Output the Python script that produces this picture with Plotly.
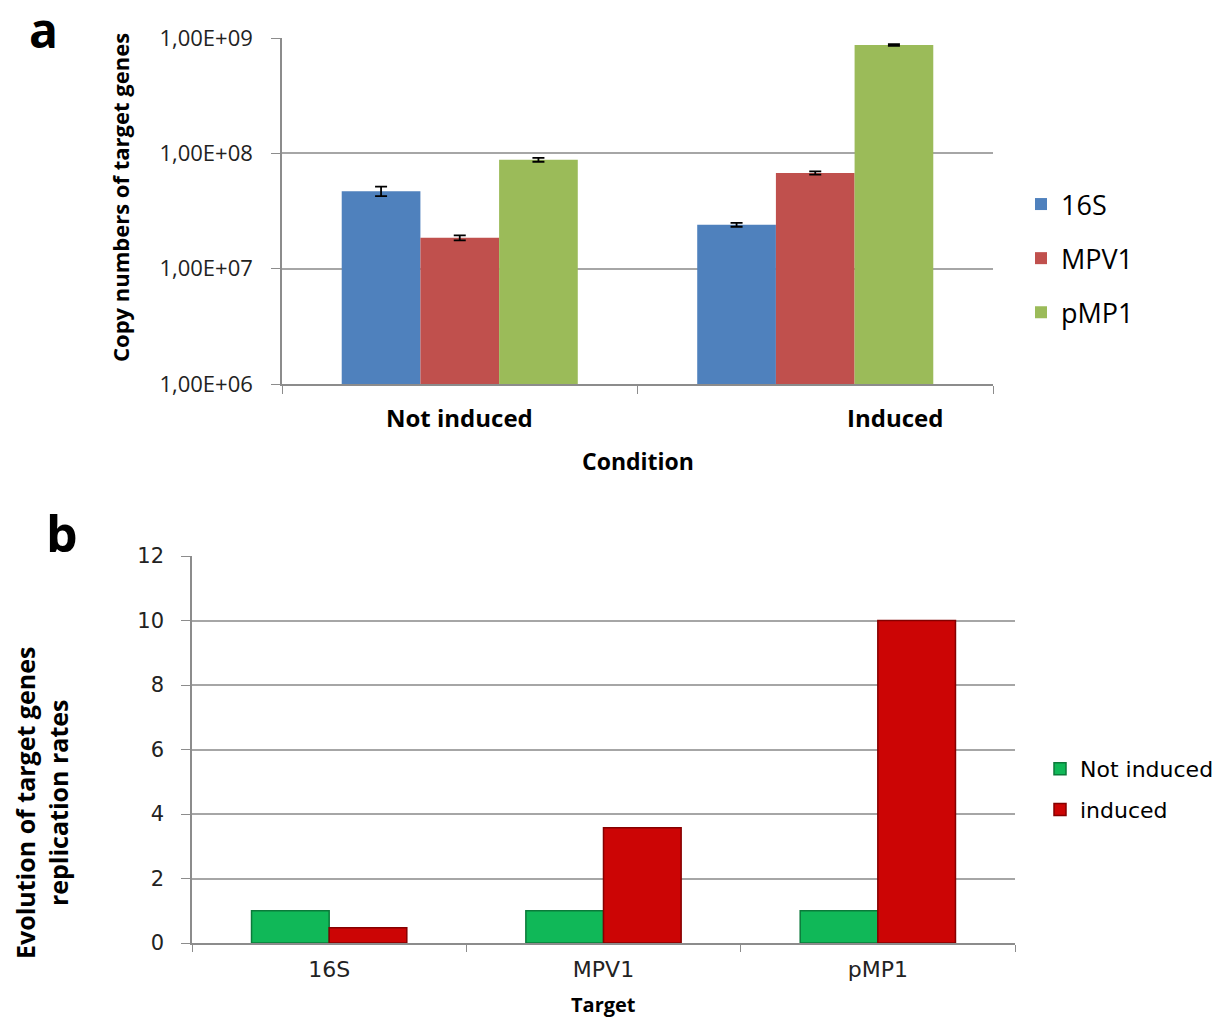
import plotly.graph_objects as go

# ---- Data: panel a ----
conditions = ["Not induced", "Induced"]
genes = ["16S", "MPV1", "pMP1"]
copies_16S = [4.7e7, 2.4e7]
copies_MPV1 = [1.85e7, 6.75e7]
copies_pMP1 = [8.8e7, 8.7e8]
err_16S = [4.5e6, 0.9e6]
err_MPV1 = [0.9e6, 2.2e6]
err_pMP1 = [3.5e6, 1.5e7]
log_ticks = [1e6, 1e7, 1e8, 1e9]

# ---- Data: panel b ----
targets = ["16S", "MPV1", "pMP1"]
rate_not_induced = [1.0, 1.0, 1.0]
rate_induced = [0.47, 3.57, 10.0]
lin_ticks = [0, 2, 4, 6, 8, 10, 12]

FONT = "Open Sans"
FONT_B = "DejaVu Sans"
W, H = 1231, 1018
OFF = 8  # page body margin

def px_x(p):
    return (p - OFF) / W

def px_y(p):
    return 1 - (p - OFF) / H

fig = go.Figure()

colors_a = ["#4f81bd", "#c0504d", "#9bbb59"]
for name, vals, errs, col in zip(genes, [copies_16S, copies_MPV1, copies_pMP1],
                                 [err_16S, err_MPV1, err_pMP1], colors_a):
    fig.add_trace(go.Bar(
        x=conditions, y=vals, name=name, marker=dict(color=col, line=dict(width=0)),
        error_y=dict(type="data", array=errs, color="black", thickness=1.8, width=6),
        xaxis="x", yaxis="y", legend="legend", legendgroup=name,
    ))

BW = 0.283
fig.add_trace(go.Bar(
    x=targets, y=rate_not_induced, name="Not induced",
    width=BW, offset=-BW,
    marker=dict(color="#10b858", line=dict(color="#0b7a3a", width=1.5)),
    xaxis="x2", yaxis="y2", legend="legend2", legendgroup="ni",
))
fig.add_trace(go.Bar(
    x=targets, y=rate_induced, name="induced",
    width=BW, offset=0,
    marker=dict(color="#cc0505", line=dict(color="#850000", width=1.5)),
    xaxis="x2", yaxis="y2", legend="legend2", legendgroup="ind",
))

tick_text_log = [("%.2fE+%02d" % (1.0, len(str(int(v))) - 1)).replace(".", ",") for v in log_ticks]

fig.update_layout(
    template="none",
    width=W, height=H, autosize=False,
    margin=dict(l=0, r=0, t=0, b=0, pad=0),
    paper_bgcolor="white", plot_bgcolor="white",
    barmode="group",
    bargap=0.336, bargroupgap=0,
    font=dict(family=FONT, color="black"),
    showlegend=True,
    xaxis=dict(
        domain=[px_x(282), px_x(993)], anchor="y", automargin=False,
        showticklabels=False, showline=True, linecolor="#8c8c8c", linewidth=1.5,
        ticks="outside", tickcolor="#8c8c8c", ticklen=8, tickson="boundaries",
        showgrid=False, zeroline=False,
    ),
    yaxis=dict(
        domain=[px_y(384), px_y(38)], anchor="x", automargin=False,
        type="log", range=[6, 9],
        tickvals=log_ticks, ticktext=tick_text_log,
        tickfont=dict(size=22, family=FONT, color="#222"),
        ticklabelstandoff=14,
        showline=True, linecolor="#8c8c8c", linewidth=1.5,
        ticks="outside", tickcolor="#8c8c8c", ticklen=9,
        showgrid=True, gridcolor="#a6a6a6", gridwidth=1.5, zeroline=False,
    ),
    xaxis2=dict(
        domain=[px_x(192), px_x(1015)], anchor="y2", automargin=False,
        tickfont=dict(size=22, family=FONT_B, color="#222"),
        ticklabelstandoff=6,
        showline=True, linecolor="#8c8c8c", linewidth=1.5,
        ticks="outside", tickcolor="#8c8c8c", ticklen=7, tickson="boundaries",
        showgrid=False, zeroline=False,
    ),
    yaxis2=dict(
        domain=[px_y(943), px_y(556)], anchor="x2", automargin=False,
        range=[0, 12], tickvals=lin_ticks,
        tickfont=dict(size=21, family=FONT_B, color="#222"),
        ticklabelstandoff=13,
        showline=True, linecolor="#8c8c8c", linewidth=1.5,
        ticks="outside", tickcolor="#8c8c8c", ticklen=9,
        showgrid=True, gridcolor="#a6a6a6", gridwidth=1.5, zeroline=False,
    ),
    legend=dict(
        x=px_x(1021), y=px_y(180), xanchor="left", yanchor="top",
        font=dict(size=27, family=FONT, color="black"),
        tracegroupgap=16, itemwidth=30, bgcolor="rgba(0,0,0,0)",
    ),
    legend2=dict(
        x=px_x(1040), y=px_y(748), xanchor="left", yanchor="top",
        font=dict(size=22, family=FONT_B, color="black"),
        tracegroupgap=9, itemwidth=30, bgcolor="rgba(0,0,0,0)",
    ),
)

annotations = [
    dict(text="<b>a</b>", x=px_x(43), y=px_y(29), xref="paper", yref="paper",
         xanchor="center", yanchor="middle", height=40, valign="middle",
         showarrow=False, font=dict(size=48, family=FONT)),
    dict(text="<b>b</b>", x=px_x(62), y=px_y(533), xref="paper", yref="paper",
         xanchor="center", yanchor="middle",
         showarrow=False, font=dict(size=50, family=FONT)),
    dict(text="<b>Copy numbers of target genes</b>", x=px_x(120), y=px_y(198),
         xref="paper", yref="paper", textangle=-90, showarrow=False,
         xanchor="center", yanchor="middle",
         font=dict(size=22, family=FONT)),
    dict(text="<b>%s</b>" % conditions[0], x=conditions[0], xref="x", y=px_y(417), yref="paper",
         xanchor="center", yanchor="middle",
         showarrow=False, font=dict(size=24, family=FONT)),
    dict(text="<b>%s</b>" % conditions[1], x=conditions[1], xref="x", xshift=80, y=px_y(417),
         yref="paper", xanchor="center", yanchor="middle",
         showarrow=False, font=dict(size=24, family=FONT)),
    dict(text="<b>Condition</b>", x=px_x(638), y=px_y(461), xref="paper", yref="paper",
         xanchor="center", yanchor="middle",
         showarrow=False, font=dict(size=23, family=FONT)),
    dict(text="<b>Target</b>", x=px_x(603), y=px_y(1004), xref="paper", yref="paper",
         xanchor="center", yanchor="middle",
         showarrow=False, font=dict(size=20, family=FONT)),
    dict(text="<b>Evolution of target genes<br>replication rates</b>", x=px_x(41), y=px_y(803),
         xref="paper", yref="paper", textangle=-90, showarrow=False,
         xanchor="center", yanchor="middle",
         font=dict(size=25, family=FONT)),
]
fig.update_layout(annotations=annotations)

fig.write_html("out.html")
